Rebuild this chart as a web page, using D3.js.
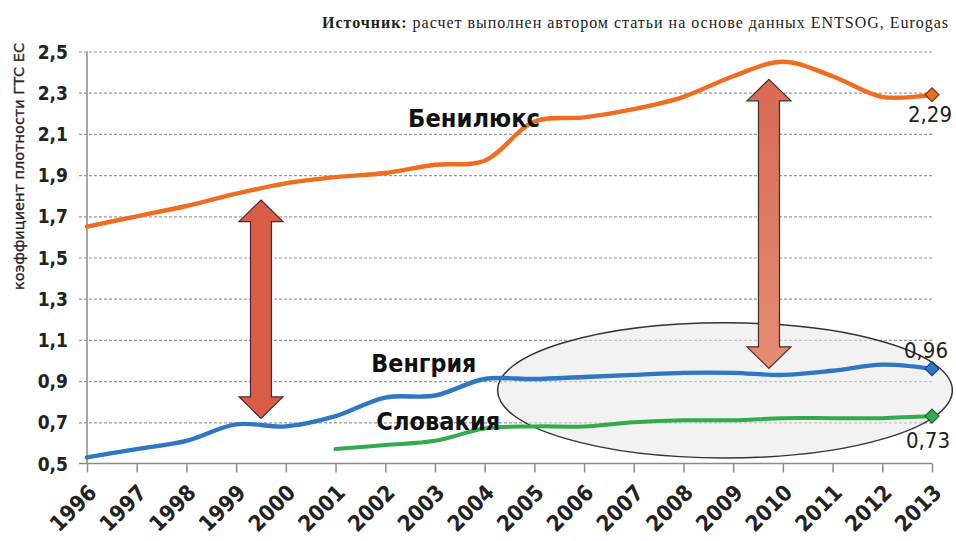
<!DOCTYPE html>
<html><head><meta charset="utf-8">
<script src="https://cdn.jsdelivr.net/npm/d3@7"></script>
<style>
html,body{margin:0;padding:0;background:#fff;}
svg{display:block;}
</style></head>
<body>
<svg id="chart" width="956" height="541"></svg>
<script>
const years = ["1996","1997","1998","1999","2000","2001","2002","2003","2004","2005","2006","2007","2008","2009","2010","2011","2012","2013"];
const benelux  = [1.65,1.70,1.75,1.81,1.86,1.89,1.91,1.95,1.97,2.16,2.18,2.22,2.28,2.38,2.45,2.38,2.28,2.29];
const hungary  = [0.53,0.57,0.61,0.69,0.68,0.73,0.82,0.83,0.91,0.91,0.92,0.93,0.94,0.94,0.93,0.95,0.98,0.96];
const slovakia = [null,null,null,null,null,0.57,0.59,0.61,0.67,0.68,0.68,0.70,0.71,0.71,0.72,0.72,0.72,0.73];
const yTicks = [0.5,0.7,0.9,1.1,1.3,1.5,1.7,1.9,2.1,2.3,2.5];
const seriesNames = ["Бенилюкс","Венгрия","Словакия"];
const lastLabels = ["2,29","0,96","0,73"];
const yTitle = "коэффициент плотности ГТС ЕС";
const sourceBold = "Источник:";
const sourceText = " расчет выполнен автором статьи на основе данных ENTSOG, Eurogas";

const svg = d3.select("#chart");
const X0 = 87, X1 = 932, Y0 = 463.5, Y1 = 51.5;
const x = d3.scalePoint().domain(years).range([X0, X1]);
const xl = d3.scaleLinear().domain([1996, 2013]).range([X0, X1]);
const y = d3.scaleLinear().domain([0.5, 2.5]).range([Y0, Y1]);
const fmt = v => d3.format(".1f")(v).replace(".", ",");

const FONT = "'DejaVu Sans Condensed','DejaVu Sans',sans-serif";

// source
const src = svg.append("text").attr("x", 322).attr("y", 28)
  .attr("font-family", "'Liberation Serif',serif").attr("font-size", 16).attr("fill", "#222")
  .attr("textLength", 626).attr("lengthAdjust", "spacing");
src.append("tspan").attr("font-weight", "bold").text(sourceBold);
src.append("tspan").text(sourceText);

// y title
svg.append("text").attr("transform", `translate(24,${(43+290)/2}) rotate(-90)`)
  .attr("text-anchor", "middle").attr("font-family", FONT).attr("font-size", 14)
  .attr("fill", "#222").attr("stroke", "#222").attr("stroke-width", 0.3)
  .attr("textLength", 247).attr("lengthAdjust", "spacingAndGlyphs")
  .text(yTitle);

// gridlines
const yAxis = d3.axisLeft(y).tickValues(yTicks).tickSize(-(X1 - X0 + 8)).tickFormat(fmt).tickPadding(12);
const gy = svg.append("g").attr("transform", `translate(${X0},0)`).call(yAxis);
gy.select(".domain").remove();
gy.selectAll(".tick line").attr("x1", -8).attr("x2", X1 - X0)
  .attr("stroke", "#9a9a9a").attr("stroke-width", 1.2).attr("stroke-dasharray", "3,2");
gy.selectAll(".tick").filter(d => d === 0.5).select("line").attr("stroke", "none");
gy.selectAll(".tick text").attr("font-family", FONT).attr("font-weight", "bold")
  .attr("font-size", 19).attr("fill", "#222").attr("x", -19).attr("dy", "0.35em");

// y axis line
svg.append("line").attr("x1", X0).attr("x2", X0).attr("y1", Y1).attr("y2", Y0)
  .attr("stroke", "#8a8a8a").attr("stroke-width", 1.5);

// x axis
const xAxis = d3.axisBottom(x).tickSize(9).tickSizeOuter(0);
const gx = svg.append("g").attr("transform", `translate(0,${Y0})`).call(xAxis);
gx.select(".domain").attr("stroke", "#8a8a8a").attr("stroke-width", 1.5).attr("d", `M${X0-8},0H${X1}`);
gx.selectAll(".tick line").attr("stroke", "#8a8a8a").attr("stroke-width", 1.5);
gx.selectAll(".tick text").attr("font-family", FONT).attr("font-weight", "bold")
  .attr("font-size", 22).attr("fill", "#222").attr("text-anchor", "end")
  .attr("transform", "translate(5,25) rotate(-45)").attr("x", 0).attr("y", 0).attr("dy", "0.35em");

// ellipse
const ell = {x0: 2004.26, x1: 2013.41, v0: 0.527, v1: 1.183};
svg.append("ellipse")
  .attr("cx", (xl(ell.x0) + xl(ell.x1)) / 2).attr("cy", (y(ell.v0) + y(ell.v1)) / 2)
  .attr("rx", (xl(ell.x1) - xl(ell.x0)) / 2).attr("ry", (y(ell.v0) - y(ell.v1)) / 2)
  .attr("fill", "rgba(232,232,232,0.55)").attr("stroke", "#333").attr("stroke-width", 1.5);

// lines
const series = [
  {vals: benelux, color: "#ef6d21", dark: "#7a3810", w: 4.4},
  {vals: hungary, color: "#2f76c4", dark: "#1d4373", w: 4.4},
  {vals: slovakia, color: "#33ab4c", dark: "#1d5f2b", w: 4}
];
const line = d3.line().defined(d => d.v != null).x(d => x(d.t)).y(d => y(d.v)).curve(d3.curveCatmullRom.alpha(0.5));
series.forEach(s => {
  const data = years.map((t, i) => ({t, v: s.vals[i]}));
  svg.append("path").datum(data).attr("d", line).attr("fill", "none")
    .attr("stroke", s.color).attr("stroke-width", s.w).attr("stroke-linecap", "round");
  const last = data[data.length - 1];
  const cx = x(last.t), cy = y(last.v), r = 7;
  svg.append("path").attr("d", `M${cx},${cy-r}L${cx+r},${cy}L${cx},${cy+r}L${cx-r},${cy}Z`)
    .attr("fill", s.color).attr("stroke", s.dark).attr("stroke-width", 1.2);
});

// arrows
const arrows = [
  {t: 1999.5, top: 1.779, bottom: 0.719, fillTop: "#d95c46", fillBot: "#d95c46"},
  {t: 2009.72, top: 2.365, bottom: 0.962, fillTop: "#d86a53", fillBot: "#e68d73"}
];
const defs = svg.append("defs");
arrows.forEach((a, i) => {
  const gid = "ag" + i;
  const g = defs.append("linearGradient").attr("id", gid).attr("x1", 0).attr("x2", 0).attr("y1", 0).attr("y2", 1);
  g.append("stop").attr("offset", "0%").attr("stop-color", a.fillTop);
  g.append("stop").attr("offset", "100%").attr("stop-color", a.fillBot);
  const cx = xl(a.t), ty = y(a.top), by = y(a.bottom), hh = 21.5, hw = 22, sw = 10.5;
  const p = `M${cx},${ty}L${cx+hw},${ty+hh}L${cx+sw},${ty+hh}L${cx+sw},${by-hh}L${cx+hw},${by-hh}L${cx},${by}L${cx-hw},${by-hh}L${cx-sw},${by-hh}L${cx-sw},${ty+hh}L${cx-hw},${ty+hh}Z`;
  svg.append("path").attr("d", p).attr("fill", `url(#${gid})`).attr("stroke", "#4a2b2b").attr("stroke-width", 1.2).attr("stroke-linejoin", "miter");
});

// series labels
const nameLabels = [
  {t: 2002.46, v: 2.133, len: 132},
  {t: 2001.72, v: 0.944, len: 105},
  {t: 2001.82, v: 0.663, len: 124}
];
nameLabels.forEach((p, i) => {
  svg.append("text").attr("x", xl(p.t)).attr("y", y(p.v))
    .attr("font-family", FONT).attr("font-weight", "bold").attr("font-size", 24)
    .attr("textLength", p.len).attr("lengthAdjust", "spacingAndGlyphs")
    .attr("fill", "#111").text(seriesNames[i]);
});

// end value labels
const endOffsets = [{dx: -2, dy: 27}, {dx: -6, dy: -11}, {dx: -4, dy: 32}];
series.forEach((s, i) => {
  const v = s.vals[s.vals.length - 1];
  svg.append("text").attr("x", x(years[years.length - 1]) + endOffsets[i].dx).attr("y", y(v) + endOffsets[i].dy)
    .attr("text-anchor", "middle").attr("font-family", FONT).attr("font-size", 22).attr("fill", "#222")
    .text(lastLabels[i]);
});
</script>
</body></html>
